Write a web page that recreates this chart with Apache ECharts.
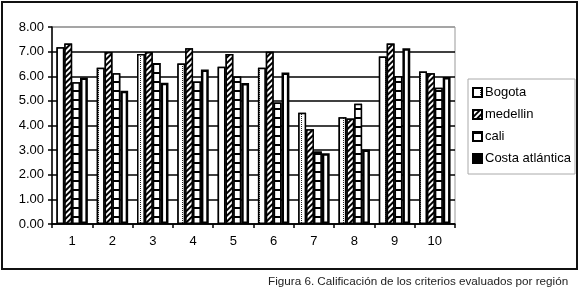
<!DOCTYPE html>
<html>
<head>
<meta charset="utf-8">
<script src="https://cdn.jsdelivr.net/npm/echarts@6/dist/echarts.min.js"></script>
<style>
html,body{margin:0;padding:0;background:#fff;}
#c{width:580px;height:294px;}
</style>
</head>
<body>
<div id="c"></div>
<script>
var categories = ['1','2','3','4','5','6','7','8','9','10'];
var seriesNames = ['Bogota','medellin','cali','Costa atlántica'];
var bogota   = [7.18, 6.35, 6.90, 6.52, 6.39, 6.35, 4.52, 4.34, 6.80, 6.19];
var medellin = [7.33, 6.98, 6.98, 7.14, 6.90, 6.99, 3.85, 4.28, 7.33, 6.12];
var cali     = [5.76, 6.12, 6.54, 5.79, 5.99, 4.93, 2.94, 4.88, 6.00, 5.53];
var costa    = [5.95, 5.41, 5.74, 6.27, 5.73, 6.15, 2.87, 3.03, 7.14, 5.97];
var yTicks = ['0.00','1.00','2.00','3.00','4.00','5.00','6.00','7.00','8.00'];
var caption = 'Figura 6. Calificación de los criterios evaluados por región';

var chart = echarts.init(document.getElementById('c'), null, {renderer:'canvas'});
var font = 'Liberation Sans, Arial, sans-serif';
var gridColors = ['#000','#000','#000','#000','#000','#000','#000','#000','#999'];

function bar(name, data, style) {
  return {
    name: name, type: 'bar', data: data,
    barGap: '0%', barCategoryGap: '22%',
    itemStyle: style
  };
}

chart.setOption({
  animation: false,
  backgroundColor: '#fff',
  grid: {left: 52, right: 125, top: 27, bottom: 70, show: true, borderColor: '#999', borderWidth: 1},
  graphic: [
    {type:'rect', shape:{x:2, y:2, width:575, height:267}, style:{fill:'none', stroke:'#111', lineWidth:2}, z:-1},
    {type:'text', left: 268, top: 276, style:{text: caption, font: '11.7px ' + font, fill:'#222'}}
  ],
  legend: {
    orient: 'vertical', left: 468, top: 79, width: 107,
    padding: [7, 4, 9, 4], itemGap: 9, itemWidth: 9, itemHeight: 9, icon: 'rect',
    borderColor: '#aaa', borderWidth: 1,
    textStyle: {fontFamily: font, fontSize: 13, color: '#000', padding: [0,0,0,-2]},
    data: [
      {name: seriesNames[0]},
      {name: seriesNames[1]},
      {name: seriesNames[2]},
      {name: seriesNames[3], itemStyle: {color: '#000', borderColor: '#000', decal: 'none'}}
    ]
  },
  xAxis: {
    type: 'category', data: categories,
    axisLine: {lineStyle: {color: '#000', width: 1.5}},
    axisTick: {show: true, inside: false, length: 4, lineStyle: {color:'#000', width: 1.5}},
    axisLabel: {fontFamily: font, fontSize: 13, color: '#000', margin: 11}
  },
  yAxis: {
    type: 'value', min: 0, max: 8, interval: 1,
    axisLine: {show: true, lineStyle: {color: '#000', width: 1.5}},
    axisTick: {show: true, length: 4, lineStyle: {color:'#000', width: 1.5}},
    axisLabel: {fontFamily: font, fontSize: 13, color: '#000', margin: 8,
      formatter: function (v) { return yTicks[Math.round(v)]; }},
    splitLine: {show: true, lineStyle: {color: gridColors, width: 1.5}}
  },
  series: [
    bar(seriesNames[0], bogota, {
      color: '#fff', borderColor: '#000', borderWidth: 1.5,
      decal: {symbol: 'rect', symbolSize: 1, dashArrayX: [1, 6], dashArrayY: [1, 1], color: '#222', backgroundColor: '#fff'}
    }),
    bar(seriesNames[1], medellin, {
      color: '#fff', borderColor: '#000', borderWidth: 1.5,
      decal: {symbol: 'rect', symbolSize: 1, dashArrayX: [1, 0], dashArrayY: [1.5, 1.5], rotation: -Math.PI / 4, color: '#000', backgroundColor: '#fff'}
    }),
    bar(seriesNames[2], cali, {
      color: '#fff', borderColor: '#000', borderWidth: 1.5,
      decal: {symbol: 'rect', symbolSize: 1, dashArrayX: [[8, 0]], dashArrayY: [1.5, 6.5], color: '#000', backgroundColor: '#fff'}
    }),
    bar(seriesNames[3], costa, {
      color: '#fff', borderColor: '#000', borderWidth: 2.5
    })
  ]
});
</script>
</body>
</html>
